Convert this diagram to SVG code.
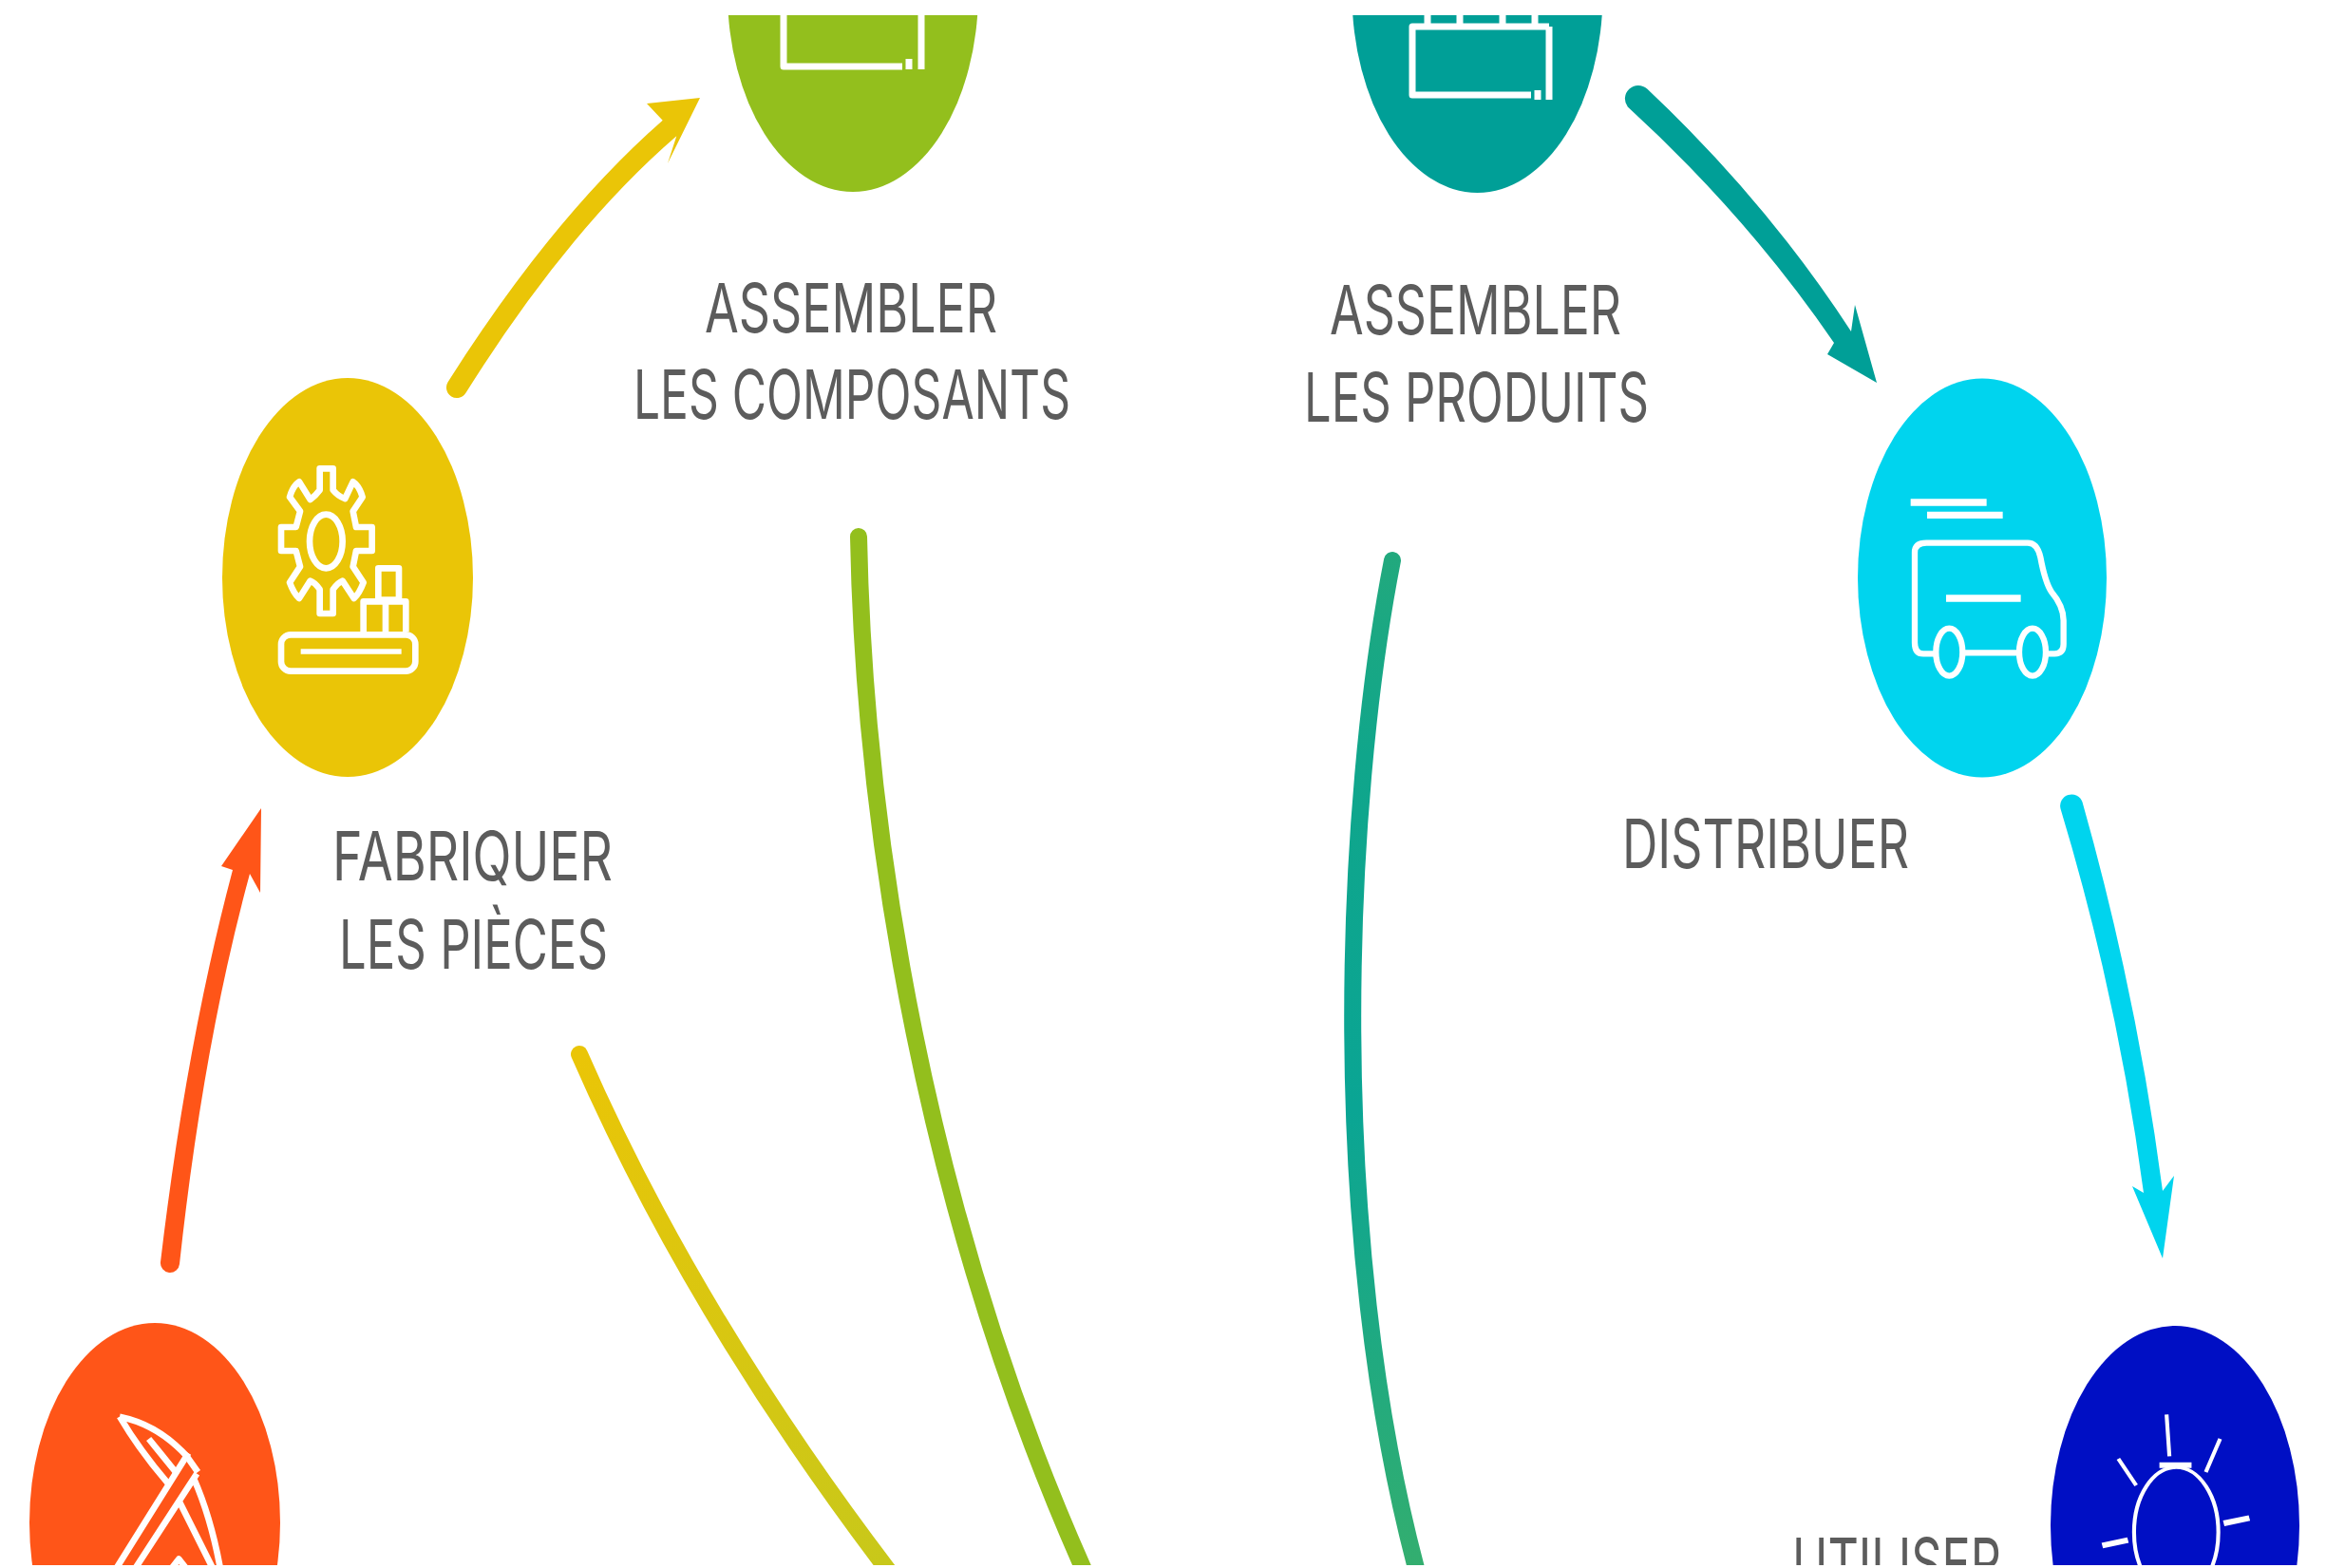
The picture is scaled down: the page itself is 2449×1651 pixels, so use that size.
<svg xmlns="http://www.w3.org/2000/svg" width="2449" height="1651" viewBox="0 0 2449 1651">
<style>
.lbl{font-family:"Inter","Liberation Sans",sans-serif;font-size:72px;font-weight:400;fill:#5c5c5c}
.ic{fill:none;stroke:#fff;stroke-linejoin:round;stroke-linecap:butt}
.long{fill:none;stroke-width:18;stroke-linecap:round}
</style>
<defs>
<clipPath id="page"><rect x="0" y="16" width="2449" height="1632"/></clipPath>
<linearGradient id="gy" gradientUnits="userSpaceOnUse" x1="610" y1="1110" x2="930" y2="1650"><stop offset="0" stop-color="#eac507"/><stop offset="1" stop-color="#c8c81a"/></linearGradient>
<linearGradient id="gt" gradientUnits="userSpaceOnUse" x1="0" y1="580" x2="0" y2="1650"><stop offset="0" stop-color="#22a97d"/><stop offset=".2" stop-color="#10a68b"/><stop offset=".55" stop-color="#0aa594"/><stop offset="1" stop-color="#33ae6f"/></linearGradient>
</defs>
<rect width="2449" height="1651" fill="#fff"/>
<g clip-path="url(#page)">
<g id="connectors">
<path id="arrow-extract-make" fill="#ff5518" d="M169 1329Q196 1100 245 916L233 912L275 851L274 940L263 920Q214 1100 189 1331A10 10 0 0 1 169 1329Z"/>
<path id="arrow-make-components" fill="#eac507" d="M471.600 402.200Q582 228 697.700 126.700L681 109L737 103L703 172L712.300 143.300Q598 242 490.400 413.800A11 11 0 0 1 471.600 402.200Z"/>
<path id="arrow-products-distribute" fill="#009f97" d="M1734.200 93.500Q1860 212 1949 349L1953 321L1976 403L1924 373L1931 361Q1840 228 1713.800 112.500A14 14 0 0 1 1734.200 93.500Z"/>
<path id="arrow-distribute-use" fill="#00d4ee" d="M2192.500 844.600Q2250 1048 2277 1254L2289 1238L2277 1325L2245 1249L2257 1256Q2230 1052 2169.500 851.400A12 12 0 0 1 2192.500 844.600Z"/>
<path id="curve-yellow" class="long" stroke="url(#gy)" d="M610 1110Q730 1385 940 1660"/>
<path id="curve-green" class="long" stroke="#93bf1d" d="M904 565C910 880 975 1280 1142 1655"/>
<path id="curve-teal" class="long" stroke="url(#gt)" d="M1466 590C1415 850 1397 1300 1492 1655"/>
</g>
<g id="node-extraire">
<ellipse cx="163" cy="1603" rx="132" ry="210" fill="#ff5518"/>
<g transform="translate(0 1380) scale(.3333)" class="ic" stroke-width="20">
<path d="M378 335Q500 360 590 460L625 510M378 335Q440 440 530 545M470 405L555 510"/>
<path d="M595 450L370 810M622 515L430 810M612 530Q665 650 695 810M565 600L670 810M545 810L565 785L585 810"/>
</g>
</g>
<g id="node-fabriquer">
<ellipse cx="366" cy="608" rx="132" ry="210" fill="#eac507"/>
<g transform="translate(230 400) scale(.3333)" class="ic" stroke-width="20">
<path d="M320 280H362V348Q378 368 400 375L425 322Q445 335 455 370L425 415L435 465H485V540H435L425 590L458 640Q445 675 428 690L392 635Q378 640 362 662V738H320V662Q305 640 290 635L255 690Q238 675 225 640L258 590L245 540H198V465H245L258 415L225 370Q235 335 255 322L290 378Q305 368 320 348Z"/>
<ellipse cx="340" cy="510" rx="52" ry="85"/>
<rect x="505" y="595" width="65" height="100"/>
<path d="M458 795V700H592V795M528 700V795"/>
<rect x="198" y="805" width="424" height="115" rx="30"/>
<path d="M260 858H578" stroke-width="16"/>
</g>
<text class="lbl" x="350" y="927" textLength="295" lengthAdjust="spacingAndGlyphs">FABRIQUER</text>
<text class="lbl" x="357" y="1020" textLength="283" lengthAdjust="spacingAndGlyphs">LES PIÈCES</text>
</g>
<g id="node-assembler-composants">
<ellipse cx="898" cy="-8" rx="132" ry="210" fill="#93bf1d"/>
<path class="ic" stroke-width="7" d="M825 10V70H950M957 62V73M970 10V73"/>
<text class="lbl" x="742" y="350" textLength="308" lengthAdjust="spacingAndGlyphs">ASSEMBLER</text>
<text class="lbl" x="667" y="441" textLength="460" lengthAdjust="spacingAndGlyphs">LES COMPOSANTS</text>
</g>
<g id="node-assembler-produits">
<ellipse cx="1555.5" cy="-7" rx="132" ry="210" fill="#009f97"/>
<path class="ic" stroke-width="7" d="M1631 28H1487V100H1612M1631 28V105M1619 95V105M1503 10V28M1537 10V28M1582 10V28M1616 10V28"/>
<text class="lbl" x="1400" y="352" textLength="307" lengthAdjust="spacingAndGlyphs">ASSEMBLER</text>
<text class="lbl" x="1373" y="444" textLength="363" lengthAdjust="spacingAndGlyphs">LES PRODUITS</text>
</g>
<g id="node-distribuer">
<ellipse cx="2087" cy="608.500" rx="131" ry="210" fill="#00d4ee"/>
<g transform="translate(1950 400) scale(.3333)" class="ic" stroke-width="19">
<path d="M185 387H425M237 427H476M297 690H533" stroke-width="22"/>
<path d="M262 865H225Q198 865 198 830V545Q198 515 235 515H555Q585 515 595 560Q610 640 630 670Q668 715 668 760V835Q668 865 640 865H618M522 862H355"/>
<ellipse cx="307" cy="860" rx="42" ry="75"/>
<ellipse cx="570" cy="860" rx="42" ry="75"/>
</g>
<text class="lbl" x="1708" y="914" textLength="302" lengthAdjust="spacingAndGlyphs">DISTRIBUER</text>
</g>
<g id="node-utiliser">
<ellipse cx="2290" cy="1606" rx="131" ry="210" fill="#000fc4"/>
<g transform="translate(1860 1380) scale(.376 .3333)" class="ic" stroke-width="11">
<path d="M1120 328L1128 460M1270 405L1230 510M985 468L1035 552"/>
<path d="M1280 672L1352 655M940 742L1012 725M1100 488H1190" stroke-width="18"/>
<ellipse cx="1147" cy="700" rx="118" ry="205"/>
</g>
<text class="lbl" x="1887" y="1671" textLength="220" lengthAdjust="spacingAndGlyphs">UTILISER</text>
</g>
</g>
</svg>
